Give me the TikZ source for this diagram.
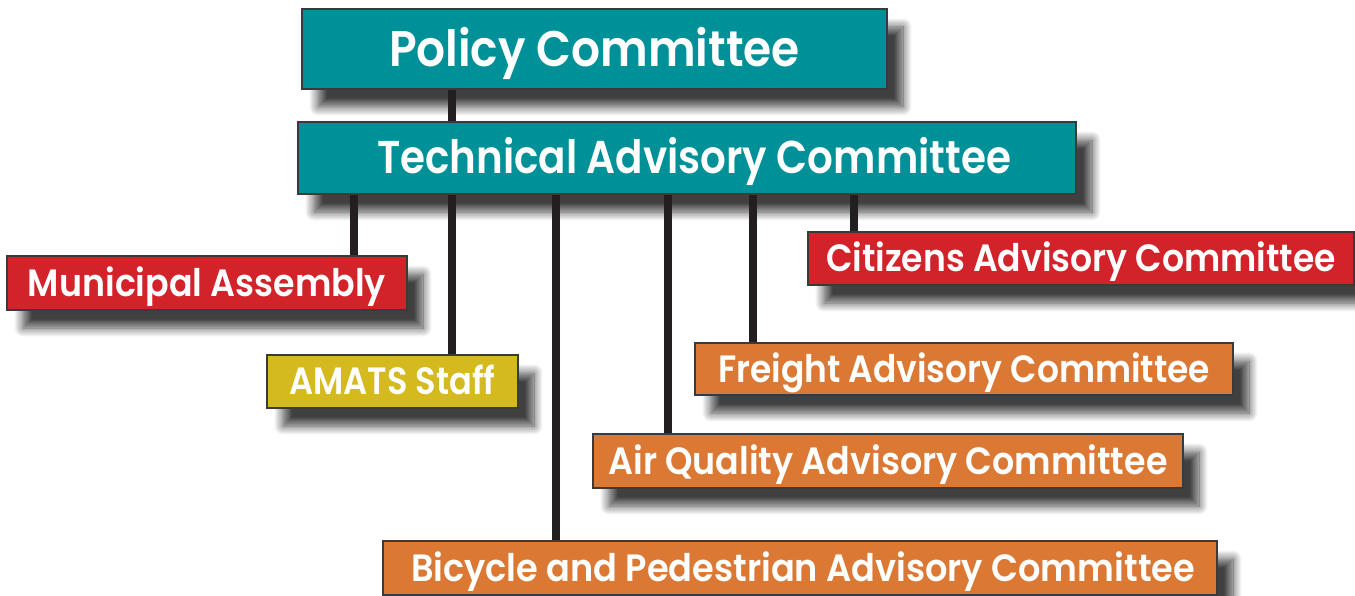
\documentclass[tikz,border=0pt]{standalone}
\usepackage{graphicx}
\usepackage{fontspec}
\setmainfont{Poppins}[BoldFont={Poppins SemiBold}]
\usetikzlibrary{shadows.blur}
\definecolor{tealbox}{HTML}{009098}
\definecolor{redbox}{HTML}{D2232A}
\definecolor{yellowbox}{HTML}{D4B91F}
\definecolor{orangebox}{HTML}{DB7934}
\definecolor{linedark}{HTML}{231F20}
\definecolor{edgegray}{HTML}{3A3A3A}
\newcommand\fitto[2]{\setbox0\hbox{#2}\pgfmathsetmacro\myscx{#1/\the\wd0}\scalebox{\myscx}[1]{\box0}}
\tikzset{
  box/.style={draw=edgegray, line width=1.3pt, text=white, inner sep=0pt, anchor=center,
    blur shadow={shadow xshift=16pt, shadow yshift=-18pt, shadow blur radius=9pt, shadow blur steps=12, shadow opacity=75}},
  txt/.style={font=\fontsize{#1}{#1}\selectfont\bfseries, text depth=0pt},
  big/.style={box, fill=tealbox},
  redb/.style={box, fill=redbox},
  yelb/.style={box, fill=yellowbox},
  orb/.style={box, fill=orangebox},
  conn/.style={draw=linedark, line width=8.5pt}
}
\begin{document}
\begin{tikzpicture}[x=1pt,y=-1pt]
\useasboundingbox (0,0) rectangle (1355,596);
\node[big, txt=50, text height=35pt, minimum width=585pt, minimum height=80pt] (policy) at (594.5,49) {\fitto{411}{Policy Committee}};
\node[big, txt=46, text height=32pt, minimum width=778pt, minimum height=72pt] (tac) at (687,158) {\hspace*{14pt}\fitto{634}{Technical Advisory Committee}};
\node[redb, txt=38, text height=26.5pt, minimum width=400pt, minimum height=54pt] (muni) at (207,283) {\fitto{358}{Municipal Assembly}};
\node[yelb, txt=38, text height=26.5pt, minimum width=251pt, minimum height=53pt] (amats) at (392.5,381.5) {\fitto{206}{AMATS Staff}};
\node[redb, txt=38, text height=26.5pt, minimum width=546pt, minimum height=53pt] (cit) at (1081,258.5) {\fitto{510}{Citizens Advisory Committee}};
\node[orb, txt=38, text height=26.5pt, minimum width=538pt, minimum height=52pt] (frt) at (964,369) {\fitto{492}{Freight Advisory Committee}};
\node[orb, txt=38, text height=26.5pt, minimum width=590pt, minimum height=54pt] (air) at (888,461) {\fitto{559}{Air Quality Advisory Committee}};
\node[orb, txt=38, text height=26.5pt, minimum width=834pt, minimum height=54pt] (bike) at (800,568) {\hspace*{6pt}\fitto{784}{Bicycle and Pedestrian Advisory Committee}};
\coordinate (x0) at (452,0);
\coordinate (x1) at (354,0);
\coordinate (x2) at (452,0);
\coordinate (x3) at (556,0);
\coordinate (x4) at (668,0);
\coordinate (x5) at (753,0);
\coordinate (x6) at (854,0);
\draw[conn] (policy.south -| x0) -- (tac.north -| x0);
\draw[conn] (tac.south -| x1) -- (muni.north -| x1);
\draw[conn] (tac.south -| x2) -- (amats.north -| x2);
\draw[conn] (tac.south -| x3) -- (bike.north -| x3);
\draw[conn] (tac.south -| x4) -- (air.north -| x4);
\draw[conn] (tac.south -| x5) -- (frt.north -| x5);
\draw[conn] (tac.south -| x6) -- (cit.north -| x6);
\end{tikzpicture}
\end{document}
